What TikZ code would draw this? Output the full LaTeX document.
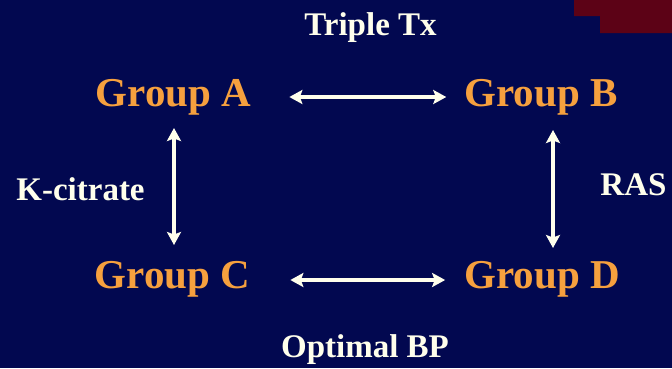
\documentclass[tikz,border=0pt]{standalone}
\usepackage{fontspec}
\setmainfont{Liberation Serif}
\usepackage{xcolor}
\usetikzlibrary{arrows.meta,positioning}
\definecolor{slideNavy}{RGB}{2,8,80}
\definecolor{slideOrange}{RGB}{246,160,62}
\definecolor{slideCream}{RGB}{255,255,236}
\definecolor{slideRust}{RGB}{92,2,22}
\tikzset{
  % group names in orange, therapy labels in cream
  groupnode/.style={
    inner sep=0pt,
    anchor=base,
    text=slideOrange,
    font=\fontsize{41}{46}\selectfont\bfseries
  },
  therapy/.style={
    inner sep=0pt,
    anchor=base,
    text=slideCream,
    font=\fontsize{33}{38}\selectfont\bfseries
  },
  biarrow/.style={
    {Stealth[length=13pt,width=14pt,inset=2.5pt]}-{Stealth[length=13pt,width=14pt,inset=2.5pt]},
    line width=3.2pt,
    draw=slideCream
  }
}
\begin{document}
\begin{tikzpicture}[x=1pt,y=-1pt]

% slide background
\fill[slideNavy] (0,0) rectangle (672,368);
\fill[slideRust] (574,0) -- (672,0) -- (672,33) -- (600,33) -- (600,16) -- (574,16) -- cycle;
\useasboundingbox (0,0) rectangle (672,368);

% the four groups
\node[groupnode] (grpA) at (173.5,106) {Group A};
\node[groupnode] (grpB) at (541,106) {Group B};
\node[groupnode] (grpC) at (172.5,288) {Group C};
\node[groupnode] (grpD) at (542,288) {Group D};

% treatments between groups
\node[therapy] (triple) at (370.5,35) {Triple Tx};
\node[therapy] (optbp) at (365,357) {Optimal BP};
\node[therapy] (kcit) at (80.5,200) {K-citrate};
\node[therapy] (ras) at (633.5,195) {RAS};

\draw[biarrow] ([shift={(38,-9)}]grpA.base east) -- ([shift={(-18,-9)}]grpB.base west);
\draw[biarrow] ([shift={(40,-8)}]grpC.base east) -- ([shift={(-19,-8)}]grpD.base west);
\draw[biarrow] ([shift={(0.5,22)}]grpA.base) -- ([shift={(1.5,-43)}]grpC.base);
\draw[biarrow] ([shift={(12,24)}]grpB.base) -- ([shift={(11,-40)}]grpD.base);

\end{tikzpicture}
\end{document}
